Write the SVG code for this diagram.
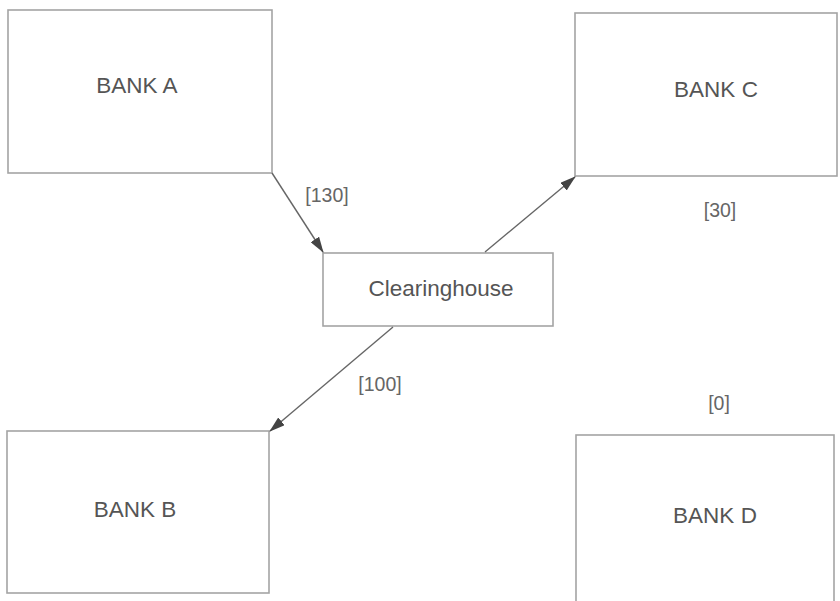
<svg xmlns="http://www.w3.org/2000/svg" width="840" height="601" viewBox="0 0 840 601">
  <style>
    .box { fill: #ffffff; stroke: #a4a4a4; stroke-width: 1.6; }
    .name { font-family: "Liberation Sans", Arial, sans-serif; font-size: 22.5px; fill: #555555; text-anchor: middle; }
    .amt { font-family: "Liberation Sans", Arial, sans-serif; font-size: 19.5px; fill: #666666; text-anchor: middle; }
    .link { stroke: #666666; stroke-width: 1.4; fill: none; marker-end: url(#head); }
  </style>
  <defs>
    <marker id="head" viewBox="0 0 16 10" refX="15" refY="5" markerWidth="16" markerHeight="10" markerUnits="userSpaceOnUse" orient="auto">
      <path d="M0,0 L16,5 L0,10 z" fill="#444444"/>
    </marker>
  </defs>
  <rect width="840" height="601" fill="#ffffff"/>

  <g id="bank-a">
    <rect class="box" x="8" y="10" width="264" height="163"/>
    <text class="name" x="137" y="93">BANK A</text>
  </g>
  <g id="bank-c">
    <rect class="box" x="575" y="13" width="262" height="163"/>
    <text class="name" x="716" y="97">BANK C</text>
  </g>
  <g id="clearinghouse">
    <rect class="box" x="323" y="253" width="230" height="73"/>
    <text class="name" x="441" y="296">Clearinghouse</text>
  </g>
  <g id="bank-b">
    <rect class="box" x="7" y="431" width="262" height="162"/>
    <text class="name" x="135" y="517">BANK B</text>
  </g>
  <g id="bank-d">
    <rect class="box" x="576" y="435" width="258" height="170"/>
    <text class="name" x="715" y="523">BANK D</text>
  </g>

  <g id="connectors">
    <line class="link" x1="272" y1="173" x2="323" y2="252"/>
    <line class="link" x1="485" y1="252" x2="575" y2="177"/>
    <line class="link" x1="393" y1="327" x2="270" y2="431"/>
    <text class="amt" x="327" y="202">[130]</text>
    <text class="amt" x="720" y="217">[30]</text>
    <text class="amt" x="380" y="391">[100]</text>
    <text class="amt" x="719" y="410">[0]</text>
  </g>
</svg>
